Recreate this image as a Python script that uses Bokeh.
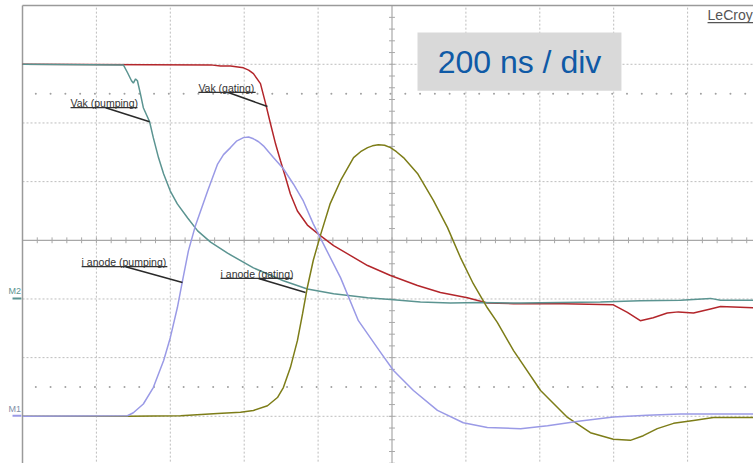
import numpy as np
from bokeh.plotting import figure
from bokeh.models import Range1d
from bokeh.core.properties import value
from bokeh.embed import file_html
from bokeh.resources import INLINE

# time in ns (200 ns / div); amplitude in screen divisions (0 = centre line)
t_vak_pump = [0, 273, 284, 295, 300, 306, 311, 319, 327, 344, 354, 368, 382, 400, 419, 447, 474, 509, 555, 625,
              706, 771, 842, 934, 996, 1077, 1158, 1239, 1348, 1456, 1564, 1672, 1781, 1862, 1889, 1978]
vak_pump = [3.0, 2.99, 2.86, 2.72, 2.68, 2.75, 2.72, 2.50, 2.26, 2.02, 1.75, 1.41, 1.13, 0.84, 0.62, 0.38, 0.16, -0.03, -0.22, -0.47,
            -0.69, -0.83, -0.91, -0.98, -1.01, -1.05, -1.07, -1.06, -1.07, -1.06, -1.05, -1.03, -1.02, -0.99, -1.02, -1.02]

t_vak_gate = [0, 509, 536, 563, 598, 612, 625, 644, 658, 671, 685, 698, 712, 725, 744, 771, 806, 842, 888, 934, 996,
              1069, 1131, 1204, 1258, 1329, 1464, 1599, 1637, 1672, 1707, 1745, 1775, 1816, 1862, 1889, 1978]
vak_gate = [3.0, 2.99, 2.97, 2.97, 2.94, 2.90, 2.84, 2.67, 2.33, 1.99, 1.64, 1.36, 1.07, 0.79, 0.50, 0.26, 0.08, -0.09, -0.26, -0.43, -0.60,
            -0.77, -0.89, -0.98, -1.07, -1.08, -1.08, -1.10, -1.23, -1.37, -1.32, -1.24, -1.22, -1.24, -1.17, -1.13, -1.15]

t_ia_pump = [0, 284, 300, 327, 354, 382, 400, 419, 433, 449, 468, 501, 528, 544, 563, 579, 598, 612, 625, 639, 652, 679, 706, 733,
             760, 787, 806, 861, 909, 969, 1004, 1058, 1123, 1193, 1258, 1348, 1421, 1510, 1599, 1691, 1781, 1978]
ia_pump = [-3.0, -2.99, -2.94, -2.79, -2.51, -2.05, -1.66, -1.15, -0.69, -0.18, 0.25, 0.84, 1.30, 1.46, 1.58, 1.69, 1.75, 1.76, 1.73, 1.68, 1.61, 1.41, 1.22, 0.96,
           0.67, 0.28, 0.04, -0.64, -1.37, -1.91, -2.22, -2.56, -2.90, -3.11, -3.19, -3.21, -3.16, -3.08, -3.01, -2.98, -2.96, -2.96]

t_ia_gate = [0, 284, 428, 528, 590, 625, 663, 690, 706, 725, 744, 758, 771, 787, 806, 833, 861, 896, 915, 934, 947, 963,
             980, 996, 1012, 1031, 1069, 1112, 1150, 1185, 1220, 1258, 1285, 1329, 1402, 1475, 1537, 1599, 1645, 1680, 1718, 1762, 1816, 1870, 1978]
ia_gate = [-3.0, -3.0, -2.99, -2.95, -2.93, -2.90, -2.82, -2.68, -2.51, -2.17, -1.71, -1.25, -0.80, -0.34, 0.08, 0.63, 1.02, 1.41, 1.51, 1.58, 1.61, 1.63,
           1.62, 1.58, 1.51, 1.41, 1.14, 0.68, 0.22, -0.29, -0.74, -1.15, -1.40, -1.88, -2.56, -3.02, -3.28, -3.39, -3.41, -3.33, -3.21, -3.12, -3.07, -3.02, -3.02]

labels = ["Vak (pumping)", "Vak (gating)", "i anode (pumping)", "i anode (gating)"]
timebase = "200 ns / div"

PX_T = 73.9 / 200.0   # px per ns
PX_V = 58.67          # px per division
W, H = 753, 463
x0 = -22 / PX_T
y_top = 239.8 / PX_V
p = figure(width=W, height=H, output_backend="svg", toolbar_location=None,
           x_range=Range1d(x0, x0 + W / PX_T), y_range=Range1d(y_top - H / PX_V, y_top),
           x_axis_type=None, y_axis_type=None, min_border=0)
p.min_border_left = p.min_border_right = p.min_border_top = p.min_border_bottom = 0
p.outline_line_color = None
p.background_fill_color = "white"
p.border_fill_color = "white"

# graticule
gx = [200 * i for i in range(1, 10) if i != 5]
p.segment(x0=gx, y0=[-5] * len(gx), x1=gx, y1=[4] * len(gx), line_color="#bdbdbd", line_width=1, line_dash="2 2")
gy = [-3, -2, -1, 1, 2, 3]
p.segment(x0=[0] * len(gy), y0=gy, x1=[2100] * len(gy), y1=gy, line_color="#bdbdbd", line_width=1, line_dash="2 2")
# centre lines with minor ticks
p.segment(x0=[1000, 0], y0=[-5, 0], x1=[1000, 2100], y1=[4, 0], line_color="#a8a8a8", line_width=1.2)
tt = np.arange(40, 2000, 40)
p.segment(x0=tt, y0=-0.05, x1=tt, y1=0.05, line_color="#a8a8a8", line_width=1)
vv = np.arange(-4.8, 4.0, 0.2)
p.segment(x0=992, y0=vv, x1=1008, y1=vv, line_color="#a8a8a8", line_width=1)
# dotted cursor rows
dots = np.arange(36, 1990, 40)
p.scatter(np.concatenate([dots, dots]), np.concatenate([np.full(len(dots), 2.5), np.full(len(dots), -2.5)]),
          size=2, color="#a0a0a0", marker="circle", line_width=0)
# border (left + top)
p.segment(x0=[0, 0], y0=[-5, 4], x1=[0, 2100], y1=[4, 4], line_color="#9a9a9a", line_width=1.5)

# traces
p.line(t_vak_gate, vak_gate, line_color="#b3262b", line_width=1.5)
p.line(t_vak_pump, vak_pump, line_color="#5b9491", line_width=1.5)
p.line(t_ia_gate, ia_gate, line_color="#7d7d18", line_width=1.5)
p.line(t_ia_pump, ia_pump, line_color="#9a9ae6", line_width=1.5)

# annotations: text, underline, leader
ann_x = [130, 476, 160, 536]
ann_ul = [2.26, 2.52, -0.45, -0.65]
ann_x2 = [311, 631, 392, 731]
lead_from = [(225, 2.26), (557, 2.52), (279, -0.45), (639, -0.65)]
lead_to = [(344, 2.02), (663, 2.28), (433, -0.72), (766, -0.89)]
p.text(x=ann_x, y=[u + 0.08 for u in ann_ul], text=labels, text_font=value("Liberation Sans"),
       text_font_size=value("10.5px"), text_color="#333333", text_baseline="alphabetic", text_align="left")
p.segment(x0=ann_x, y0=ann_ul, x1=ann_x2, y1=ann_ul, line_color="#333333", line_width=1.2)
p.segment(x0=[a[0] for a in lead_from], y0=[a[1] for a in lead_from],
          x1=[a[0] for a in lead_to], y1=[a[1] for a in lead_to], line_color="#2a2a2a", line_width=1.5)

# timebase box
p.quad(left=[1069], right=[1621], top=[3.54], bottom=[2.55], fill_color="#d9d9d9", line_color=None)
p.text(x=[1345], y=[3.045], text=[timebase], text_font=value("Liberation Sans"), text_font_size=value("32px"),
       text_color="#0f5aa6", text_align="center", text_baseline="middle")

# LeCroy logo text
p.text(x=[1854], y=[3.84], text=["LeCroy"], text_font=value("Liberation Sans"), text_font_size=value("14px"),
       text_color="#555555", text_baseline="alphabetic")
p.segment(x0=[1854], y0=[3.71], x1=[2000], y1=[3.71], line_color="#555555", line_width=1.2)

# reference markers
p.text(x=[-38, -38], y=[-0.87, -2.87], text=["M2", "M1"], text_font=value("Liberation Sans"),
       text_font_size=value("9px"), text_color=["#5b9491", "#7f8fa8"], text_baseline="alphabetic")
p.segment(x0=[-27, -27], y0=[-0.99, -2.99], x1=[-3, -3], y1=[-0.99, -2.99],
          line_color=["#5b9491", "#9a9ae6"], line_width=2)

open("out.html", "w").write(file_html(p, INLINE))
